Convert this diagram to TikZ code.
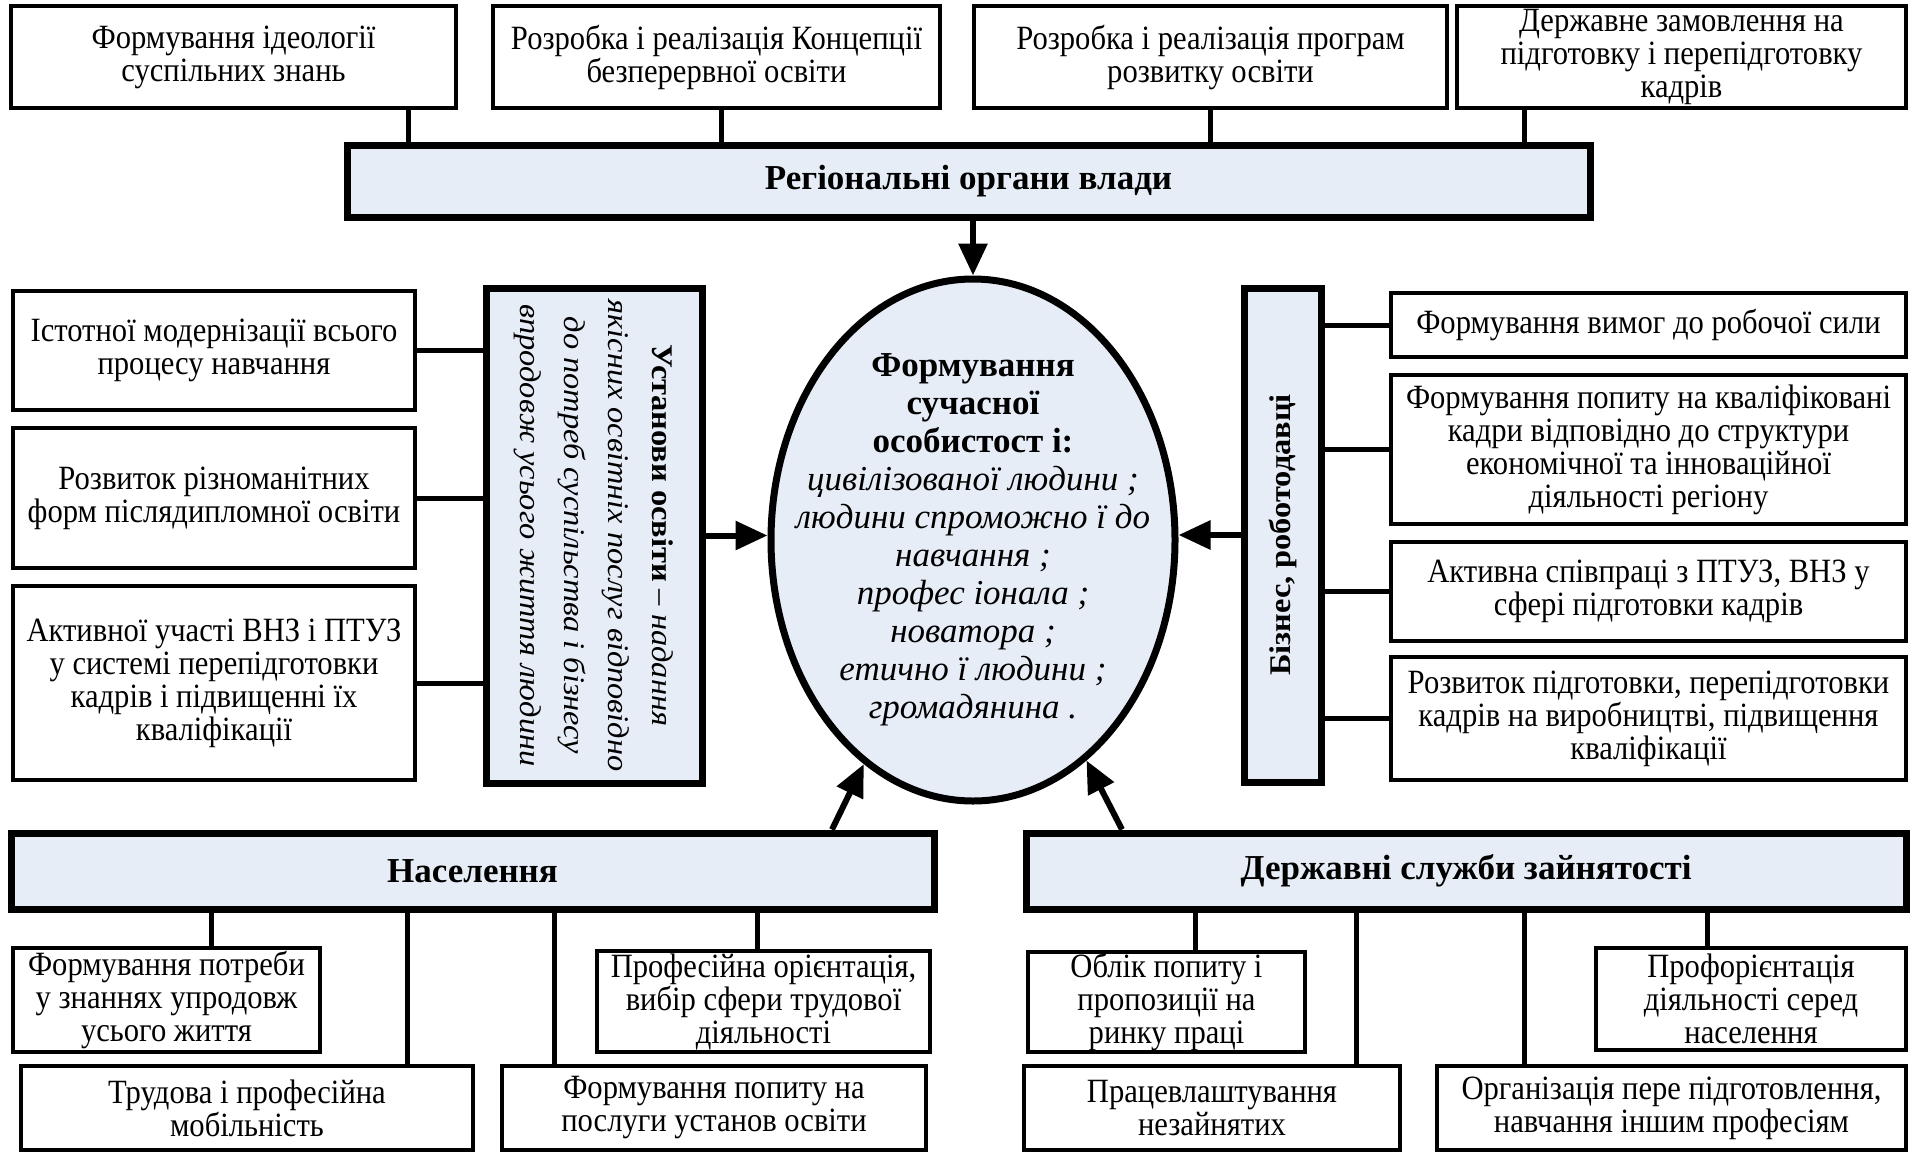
\documentclass[tikz,border=0pt]{standalone}
\usepackage{fontspec}
\setmainfont{Liberation Serif}[FakeStretch=0.9]
\newfontfamily\widefont{Liberation Serif}[FakeStretch=1.08]
\newfontfamily\plainfont{Liberation Serif}
\usetikzlibrary{shapes.geometric,arrows.meta}
\definecolor{panel}{RGB}{231,237,247}
\begin{document}
\begin{tikzpicture}[x=1pt,y=-1pt,
  box/.style={draw, line width=4pt, fill=white, align=center, inner sep=0pt,
    font=\fontsize{34}{33}\selectfont},
  head/.style={draw, line width=7pt, fill=panel, align=center, inner sep=0pt,
    font=\plainfont\bfseries\fontsize{35}{36}\selectfont},
  link/.style={line width=5pt},
  arr/.style={line width=6pt, -{Triangle[length=32pt,width=28pt]}},
]
\useasboundingbox (0,0) rectangle (1912,1152);

% top row
\node[box, minimum width=445pt, minimum height=102pt] (t1) at (233.5,57) {Формування ідеології\\суспільних знань};
\node[box, minimum width=447pt, minimum height=102pt] (t2) at (716.5,57) {Розробка і реалізація Концепції\\безперервної освіти};
\node[box, minimum width=473pt, minimum height=102pt] (t3) at (1210.5,57) {Розробка і реалізація програм\\розвитку освіти};
\node[box, minimum width=449pt, minimum height=102pt] (t4) at (1681.5,57) {Державне замовлення на\\підготовку і перепідготовку\\кадрів};

\node[head, minimum width=1243pt, minimum height=72pt] (reg) at (968.5,181) {Регіональні органи влади};

\coordinate (c1) at (408,0);
\coordinate (c2) at (721,0);
\coordinate (c3) at (1210,0);
\coordinate (c4) at (1524,0);
\draw[link] (t1.south -| c1) -- (reg.north -| c1);
\draw[link] (t2.south -| c2) -- (reg.north -| c2);
\draw[link] (t3.south -| c3) -- (reg.north -| c3);
\draw[link] (t4.south -| c4) -- (reg.north -| c4);

% central ellipse
\node[ellipse, draw, line width=7pt, fill=panel, minimum width=404pt, minimum height=522pt, inner sep=0pt] (E) at (973,540) {};
\node[align=center, inner sep=0pt, font=\plainfont\fontsize{35}{38}\selectfont] (Et) at (973,540)
  {\textbf{Формування}\\ \textbf{сучасної}\\ \textbf{особистост і:}\\
   \textit{цивілізованої людини ;}\\ \textit{людини спроможно ї до}\\ \textit{навчання ;}\\ \textit{профес іонала ;}\\ \textit{новатора ;}\\ \textit{етично ї людини ;}\\ \textit{громадянина .}};

\draw[arr] (reg.south -| E.north) -- (E.north);

% left: education institutions
\node[head, minimum width=216pt, minimum height=495pt] (U) at (594,535.5) {};
\node[rotate=-90, align=center, inner sep=0pt, font=\widefont\fontsize{30}{44}\selectfont] (Ut) at (U.center)
  {\textbf{Установи освіти} – \textit{надання}\\ \textit{якісних освітніх послуг відповідно}\\ \textit{до потреб суспільства і бізнесу}\\ \textit{впродовж усього життя людини}};

\node[box, minimum width=402pt, minimum height=119pt] (L1) at (214,350.5) {Істотної модернізації всього\\процесу навчання};
\node[box, minimum width=402pt, minimum height=140pt] (L2) at (214,498) {Розвиток різноманітних\\форм післядипломної освіти};
\node[box, minimum width=402pt, minimum height=194pt] (L3) at (214,683) {Активної участі ВНЗ і ПТУЗ\\у системі перепідготовки\\кадрів і підвищенні їх\\кваліфікації};
\draw[link] (L1.east) -- (L1.east -| U.west);
\draw[link] (L2.east) -- (L2.east -| U.west);
\draw[link] (L3.east) -- (L3.east -| U.west);
\draw[arr] (U.east) -- (U.east -| E.west);

% right: business
\node[head, minimum width=77pt, minimum height=494pt] (B) at (1282.5,535) {};
\node[rotate=90, inner sep=0pt, font=\widefont\bfseries\fontsize{30}{36}\selectfont] (Bt) at (B.center) {Бізнес, роботодавці};

\node[box, minimum width=515pt, minimum height=64pt] (R1) at (1648.5,325) {Формування вимог до робочої сили};
\node[box, minimum width=515pt, minimum height=149pt] (R2) at (1648.5,449.5) {Формування попиту на кваліфіковані\\кадри відповідно до структури\\економічної та інноваційної\\діяльності регіону};
\node[box, minimum width=515pt, minimum height=99pt] (R3) at (1648.5,591.5) {Активна співпраці з ПТУЗ, ВНЗ у\\сфері підготовки кадрів};
\node[box, minimum width=515pt, minimum height=123pt] (R4) at (1648.5,718.5) {Розвиток підготовки, перепідготовки\\кадрів на виробництві, підвищення\\кваліфікації};
\draw[link] (R1.west) -- (R1.west -| B.east);
\draw[link] (R2.west) -- (R2.west -| B.east);
\draw[link] (R3.west) -- (R3.west -| B.east);
\draw[link] (R4.west) -- (R4.west -| B.east);
\draw[arr] (B.west) -- (B.west -| E.east);

% bottom: population
\node[head, minimum width=923pt, minimum height=76pt] (N) at (472.5,871) {Населення};
\node[box, minimum width=307pt, minimum height=104pt] (N1) at (166.5,1000) {Формування потреби\\у знаннях упродовж\\усього життя};
\node[box, minimum width=452pt, minimum height=84pt] (N2) at (247,1108) {Трудова і професійна\\мобільність};
\node[box, minimum width=424pt, minimum height=84pt] (N3) at (714,1108) {Формування попиту на\\послуги установ освіти};
\node[box, minimum width=333pt, minimum height=101pt] (N4) at (763.5,1001.5) {Професійна орієнтація,\\вибір сфери трудової\\діяльності};
\coordinate (k1) at (211,0);
\coordinate (k2) at (407,0);
\coordinate (k3) at (554,0);
\coordinate (k4) at (757,0);
\draw[link] (N.south -| k1) -- (N1.north -| k1);
\draw[link] (N.south -| k2) -- (N2.north -| k2);
\draw[link] (N.south -| k3) -- (N3.north -| k3);
\draw[link] (N.south -| k4) -- (N4.north -| k4);

% bottom: employment services
\node[head, minimum width=880pt, minimum height=76pt] (D) at (1466,871) {Державні служби зайнятості};
\node[box, minimum width=277pt, minimum height=100pt] (D1) at (1166.5,1002) {Облік попиту і\\пропозиції на\\ринку праці};
\node[box, minimum width=376pt, minimum height=84pt] (D2) at (1212,1108) {Працевлаштування\\незайнятих};
\node[box, minimum width=469pt, minimum height=84pt] (D3) at (1671.5,1108) {Організація пере підготовлення,\\навчання іншим професіям};
\node[box, minimum width=310pt, minimum height=102pt] (D4) at (1751,999) {Профорієнтація\\діяльності серед\\населення};
\coordinate (m1) at (1195,0);
\coordinate (m2) at (1356,0);
\coordinate (m3) at (1524,0);
\coordinate (m4) at (1707,0);
\draw[link] (D.south -| m1) -- (D1.north -| m1);
\draw[link] (D.south -| m2) -- (D2.north -| m2);
\draw[link] (D.south -| m3) -- (D3.north -| m3);
\draw[link] (D.south -| m4) -- (D4.north -| m4);

\coordinate (na) at (832,0);
\coordinate (da) at (1122,0);
\draw[arr] (N.north -| na) -- (E);
\draw[arr] (D.north -| da) -- (E);
\end{tikzpicture}
\end{document}
